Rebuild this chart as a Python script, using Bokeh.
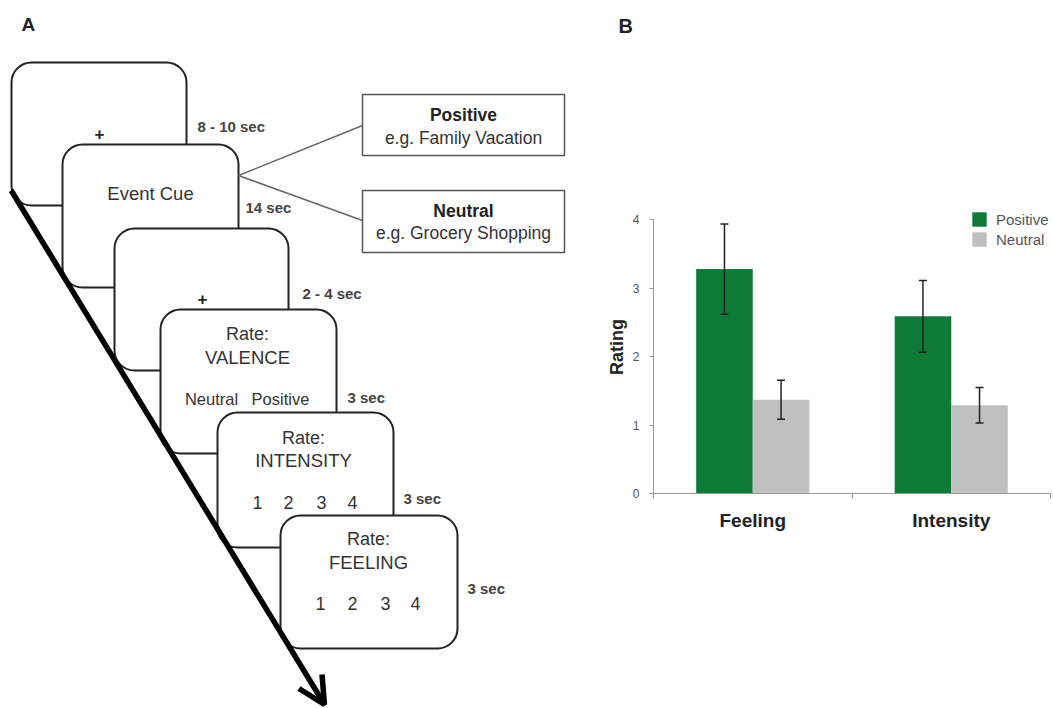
from bokeh.plotting import figure
from bokeh.models import (Range1d, ColumnDataSource, Whisker, TeeHead, FixedTicker,
                          Legend, LegendItem, Arrow, OpenHead)
from bokeh.layouts import row, column
from bokeh.embed import file_html
from bokeh.resources import INLINE
from bokeh.core.properties import value
import numpy as np

FONT = "Liberation Sans"

# ---------------- Panel B data ----------------
categories = ["Feeling", "Intensity"]
series = ["Positive", "Neutral"]
positive_mean = [3.28, 2.59]
positive_sem = [0.66, 0.525]
neutral_mean = [1.37, 1.29]
neutral_sem = [0.285, 0.26]
y_ticks = [0, 1, 2, 3, 4]

# ---------------- Panel A content ----------------
box_left = [11, 62, 114, 160, 217, 280]
box_right = [186, 238, 288, 336, 393, 457]
box_top = [62, 144, 228, 309, 412, 515]
box_bottom = [205, 287, 370, 453, 547, 648]

durations = ["8 - 10 sec", "14 sec", "2 - 4 sec", "3 sec", "3 sec", "3 sec"]
dur_x = [197, 245, 302, 347, 403, 467]
dur_y = [126, 207, 293, 397, 498, 588]

screen_text = ["Event Cue", "Rate:", "VALENCE", "Neutral", "Positive",
               "Rate:", "INTENSITY", "Rate:", "FEELING"]
screen_tx = [150, 247, 247, 211, 280, 303, 303, 368, 368]
screen_ty = [193, 333, 357, 398, 398, 437, 460, 538, 562]
screen_size = ["18.5px", "18px", "18.5px", "16.5px", "16.5px", "18px", "18.5px", "18px", "18.5px"]

scale_labels = ["1", "2", "3", "4"]
scale5_x = [257, 288, 321, 352]
scale6_x = [320, 352, 385, 415]

cue_types = ["Positive", "Neutral"]
cue_examples = ["e.g. Family Vacation", "e.g. Grocery Shopping"]

# ================= Panel A =================
pa = figure(width=600, height=708, x_range=Range1d(0, 600), y_range=Range1d(708, 0),
            output_backend="svg", toolbar_location=None, x_axis_type=None, y_axis_type=None,
            min_border=0, outline_line_color=None)
pa.frame_align = False
pa.grid.visible = False

for i in range(len(box_left)):
    pa.quad(left=[box_left[i]], right=[box_right[i]], top=[box_top[i]], bottom=[box_bottom[i]],
            border_radius=20, fill_color="white", line_color="#222222", line_width=2)

# fixation crosses
pa.text(x=[99, 202], y=[133, 298], text=["+", "+"], text_font=value(FONT), text_font_size="17px",
        text_font_style="bold", text_color="#222222", text_align="center", text_baseline="middle")

pa.text(x=dur_x, y=dur_y, text=durations, text_font=value(FONT), text_font_size="15px",
        text_font_style="bold", text_color="#444444", text_align="left", text_baseline="middle")

for t, x, y, s in zip(screen_text, screen_tx, screen_ty, screen_size):
    pa.text(x=[x], y=[y], text=[t], text_font=value(FONT), text_font_size=s,
            text_color="#333333", text_align="center", text_baseline="middle")

pa.text(x=scale5_x, y=[502] * 4, text=scale_labels, text_font=value(FONT), text_font_size="18px",
        text_color="#333333", text_align="center", text_baseline="middle")
pa.text(x=scale6_x, y=[603] * 4, text=scale_labels, text_font=value(FONT), text_font_size="18px",
        text_color="#333333", text_align="center", text_baseline="middle")

# cue type boxes
pa.segment(x0=[238, 238], y0=[175, 175], x1=[362, 362], y1=[125, 220],
           line_color="#666666", line_width=1.5)
pa.quad(left=[362, 362], right=[564, 564], top=[94, 190], bottom=[155, 252],
        fill_color="white", line_color="#555555", line_width=1.5)
pa.text(x=[463, 463], y=[114, 210], text=cue_types, text_font=value(FONT), text_font_size="17.5px",
        text_font_style="bold", text_color="#222222", text_align="center", text_baseline="middle")
pa.text(x=[463, 463], y=[137, 232], text=cue_examples, text_font=value(FONT), text_font_size="17.5px",
        text_color="#333333", text_align="center", text_baseline="middle")

pa.add_layout(Arrow(end=OpenHead(size=27, line_width=5.5, line_color="black"),
                    x_start=10.7, y_start=190, x_end=324, y_end=704,
                    line_width=5.5, line_color="black"))

pa.text(x=[21], y=[23.5], text=["A"], text_font=value(FONT), text_font_size="19px",
        text_font_style="bold", text_color="#222222", text_align="left", text_baseline="alphabetic")

# ================= Panel B =================
# header strip carrying the panel letter
hb = figure(width=453, height=40, x_range=Range1d(600, 1053), y_range=Range1d(40, 0),
            output_backend="svg", toolbar_location=None, x_axis_type=None, y_axis_type=None,
            min_border=0, outline_line_color=None)
hb.frame_align = False
hb.grid.visible = False
hb.text(x=[618], y=[25], text=["B"], text_font=value(FONT), text_font_size="20px",
        text_font_style="bold", text_color="#222222", text_align="left", text_baseline="alphabetic")

GREEN = "#0f7a37"
GRAY = "#c0c0c0"
pb = figure(width=453, height=668, x_range=Range1d(0, 2), y_range=Range1d(0, 4.283),
            output_backend="svg", toolbar_location=None,
            min_border_left=53, min_border_right=3, min_border_top=160, min_border_bottom=215,
            outline_line_color=None)
pb.frame_align = False
pb.grid.visible = False

bw = 0.285
xs = np.arange(len(categories)) + 0.5
r1 = pb.vbar(x=xs - bw / 2, top=positive_mean, width=bw, fill_color=GREEN, line_color=None)
r2 = pb.vbar(x=xs + bw / 2, top=neutral_mean, width=bw, fill_color=GRAY, line_color=None)

ex = list(xs - bw / 2) + list(xs + bw / 2)
em = positive_mean + neutral_mean
es = positive_sem + neutral_sem
esrc = ColumnDataSource(dict(x=ex, upper=[m + s for m, s in zip(em, es)],
                             lower=[m - s for m, s in zip(em, es)]))
wh = Whisker(source=esrc, base="x", upper="upper", lower="lower", line_color="#222222",
             line_width=1.5, level="annotation",
             upper_head=TeeHead(size=8, line_color="#222222", line_width=1.5),
             lower_head=TeeHead(size=8, line_color="#222222", line_width=1.5))
pb.add_layout(wh)

xax = pb.xaxis[0]
xax.ticker = FixedTicker(ticks=list(xs), minor_ticks=[0, 1, 2])
xax.major_label_overrides = {float(x): c for x, c in zip(xs, categories)}
xax.axis_line_color = "#999999"
xax.major_tick_line_color = None
xax.major_tick_out = 0
xax.minor_tick_line_color = "#999999"
xax.minor_tick_out = 5
xax.minor_tick_in = 0
xax.major_label_text_font = FONT
xax.major_label_text_font_size = "19px"
xax.major_label_text_font_style = "bold"
xax.major_label_text_color = "#222222"
xax.major_label_standoff = 11

yax = pb.yaxis[0]
yax.ticker = FixedTicker(ticks=y_ticks, minor_ticks=[])
yax.bounds = (0, 4)
yax.axis_line_color = "#999999"
yax.major_tick_line_color = "#999999"
yax.major_tick_out = 4
yax.major_tick_in = 0
yax.minor_tick_line_color = None
yax.major_label_text_font = FONT
yax.major_label_text_font_size = "12px"
yax.major_label_text_color = "#555555"
yax.major_label_standoff = 10
yax.axis_label = "Rating"
yax.axis_label_text_font = FONT
yax.axis_label_text_font_size = "18px"
yax.axis_label_text_font_style = "bold"
yax.axis_label_text_color = "#222222"
yax.axis_label_standoff = 3

legend = Legend(items=[LegendItem(label=series[0], renderers=[r1]),
                       LegendItem(label=series[1], renderers=[r2])],
                location=(317, 245), padding=0, margin=0, spacing=2,
                glyph_width=18, glyph_height=18, label_height=18, label_standoff=8,
                border_line_color=None, background_fill_alpha=0,
                label_text_font=FONT, label_text_font_size="15px", label_text_color="#555555")
pb.add_layout(legend)

layout = row(pa, column(hb, pb))
open("out.html", "w").write(file_html(layout, INLINE))
